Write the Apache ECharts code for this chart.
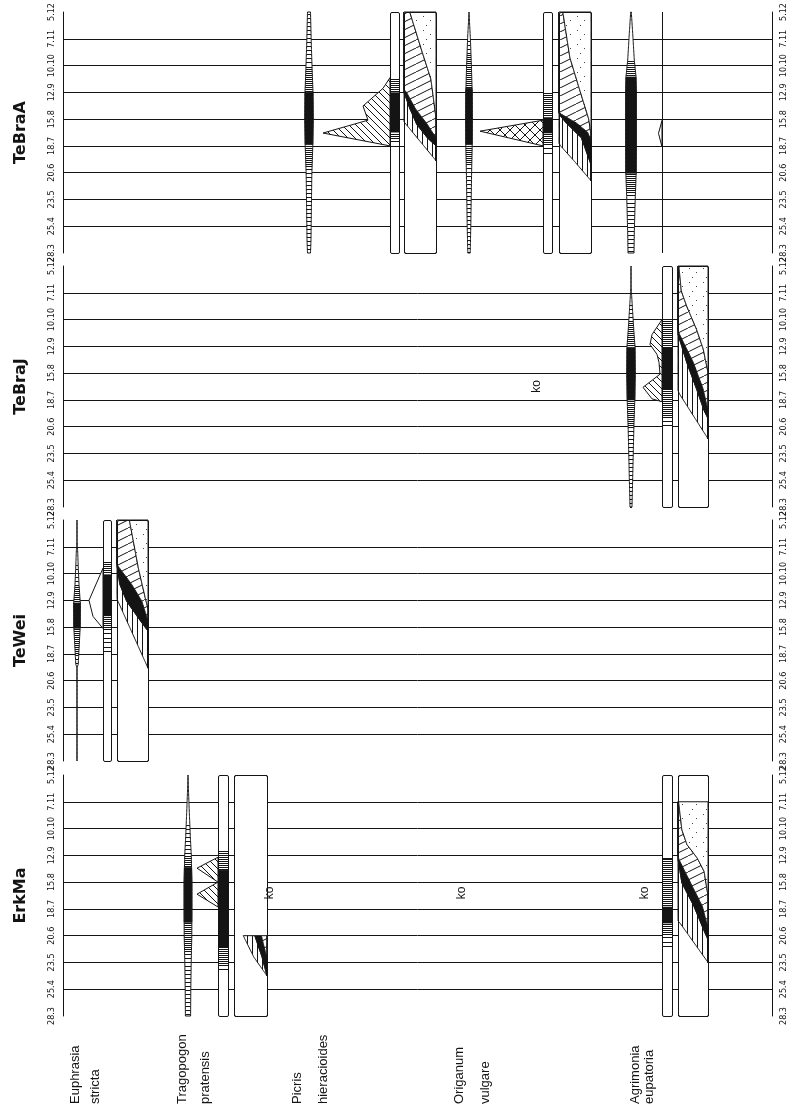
<!DOCTYPE html>
<html><head><meta charset="utf-8">
<script src="https://cdn.jsdelivr.net/npm/echarts@6/dist/echarts.min.js"></script>
<style>html,body{margin:0;padding:0;background:#fff;}#c{width:796px;height:1112px;}</style>
</head><body><div id="c"></div>
<script>
// ---------------- DATA ----------------
const DATES = ['28.3','25.4','23.5','20.6','18.7','15.8','12.9','10.10','7.11','5.12'];
const SITES = ['TeBraA','TeBraJ','TeWei','ErkMa'];
const SPECIES = [['Euphrasia','stricta'],['Tragopogon','pratensis'],['Picris','hieracioides'],['Origanum','vulgare'],['Agrimonia','eupatoria']];
const MARK_TEXT = 'ko';

// spindle profiles: [date index, half width]
const SP_TEBRAA_PICRIS = [[0,1.5],[0.5,2],[2.9,2.8],[4,3.8],[5,4.2],[6,4],[7,3],[7.8,2.3],[9,1.5]];
const SP_TEBRAA_ORIGANUM = [[0,1.2],[1,1.8],[2,2.2],[3,2.6],[4,3.2],[5,3.3],[6,3.2],[7,2.4],[8,1.4],[9,0]];
const SP_TEBRAA_AGRIMONIA = [[0,3],[0.75,3.3],[2,4.2],[3,5.2],[4,5.3],[5,5.3],[6,5.3],[6.6,5],[7.2,3.3],[8.2,1.7],[9,0.3]];
const SP_TEBRAJ_AGRIMONIA = [[0,1],[1.1,1.7],[2.9,2.8],[4,3.8],[5,4.2],[6,4],[6.6,2.8],[7.5,1.3],[8.1,0.3],[8.3,0],[9,0]];
const SP_TEWEI_EUPHRASIA = [[0,0],[3.5,0],[3.6,1.2],[4.3,2.2],[5,3.2],[5.9,3.3],[6.6,2],[7.2,1.3],[7.8,0.7],[8.3,0],[9,0]];
const SP_ERKMA_TRAGOPOGON = [[0,2.6],[1,2.8],[2,3.2],[3,3.8],[4,3.9],[5,3.9],[6,3.3],[6.7,2.3],[7.9,1],[8.6,0.3],[9,0]];
// spindle phases: [from, to, phase 1=sparse 2=dense 3=full]
const PH_TEBRAA_PICRIS = [[0,3.2,1],[3.2,4.05,2],[4.05,6.0,3],[6.0,7.0,2],[7.0,9,1]];
const PH_TEBRAA_ORIGANUM = [[0,3.4,1],[3.4,4.05,2],[4.05,6.15,3],[6.15,7.5,2],[7.5,8.0,1]];
const PH_TEBRAA_AGRIMONIA = [[0,2.24,1],[2.24,2.98,2],[2.98,6.57,3],[6.57,7.2,2]];
const PH_TEBRAJ_AGRIMONIA = [[0,2.93,1],[2.93,4.0,2],[4.0,5.96,3],[5.96,6.9,2],[6.9,7.6,1]];
const PH_TEWEI_EUPHRASIA = [[3.6,3.9,1],[3.9,4.96,2],[4.96,5.9,3],[5.9,6.6,2],[6.6,7.4,1]];
const PH_ERKMA_TRAGOPOGON = [[0,2.4,1],[2.4,3.5,2],[3.5,5.55,3],[5.55,6.0,2],[6.0,7.2,1]];
// flowering bars: [from, to, phase]
const NB_TEBRAA_PICRIS = [[3.95,4.25,1],[4.25,4.5,2],[4.5,6.0,3],[6.0,6.55,2]];
const NB_TEBRAA_ORIGANUM = [[3.6,4.0,1],[4.0,4.47,2],[4.47,5.07,3],[5.07,6.0,2]];
const NB_TEBRAJ_AGRIMONIA = [[2.93,3.3,1],[3.3,4.37,2],[4.37,5.96,3],[5.96,7.07,2]];
const NB_TEWEI_EUPHRASIA = [[4.03,4.85,1],[4.85,5.41,2],[5.41,6.97,3],[6.97,7.46,2]];
const NB_ERKMA_TRAGOPOGON = [[1.6,1.83,1],[1.83,2.54,2],[2.54,5.45,3],[5.45,6.2,2]];
const NB_ERKMA_AGRIMONIA = [[2.5,3.03,1],[3.03,3.46,2],[3.46,4.08,3],[4.08,5.9,2],[5.9,6.0,1]];
// flower-number profiles: [date index, extent]
const FL_TEBRAA_PICRIS = [[4.0,0],[4.48,67],[4.96,22],[5.49,27],[6.15,7],[6.55,0]];
const FL_TEBRAA_ORIGANUM = [[4.0,0],[4.55,63],[4.96,0]];
const FL_TEBRAA_AGRIMONIA = [[3.96,0],[4.47,3.5],[4.95,0]];
const FL_TEBRAJ_AGRIMONIA = [[3.93,0],[4.04,10],[4.47,19],[4.96,2],[5.4,3],[5.7,5],[6.07,12],[6.44,10],[7.0,0]];
const FL_TEWEI_EUPHRASIA = [[4.95,0],[5.4,10],[6.0,14],[7.2,0]];
const FL_ERKMA_TRAGOPOGON = [[4.07,0],[4.55,21],[5.0,0],[5.52,21],[5.93,0]];
// fruit stage boundaries (cumulative share 0..1): [b1, b2, b3, b4]
const WB_TEBRAA_PICRIS = [[[3.45,1],[4.9,0]],[[4.0,1],[4.3,0.73],[4.8,0.4],[5.4,0.18],[6.0,0]],[[4.3,1],[4.8,0.73],[5.4,0.35],[6.0,0.08],[6.1,0]],[[5.05,1],[6.5,0.84],[7.5,0.57],[9,0.18]]];
const WB_TEBRAA_ORIGANUM = [[[2.7,1],[3.4,0.5],[4.0,0.05],[4.1,0]],[[3.3,1],[4.3,0.7],[4.85,0.23],[5.15,0.02],[5.25,0]],[[4.2,1],[4.5,0.9],[4.85,0.55],[5.2,0.05],[5.3,0]],[[4.4,1],[5.0,0.93],[6.0,0.67],[7.3,0.34],[9,0.12]]];
const WB_TEBRAJ_AGRIMONIA = [[[2.55,1],[4.22,0.05],[4.35,0]],[[3.3,1],[3.6,0.87],[4.4,0.62],[5.4,0.29],[6.45,0]],[[3.6,1],[4.4,0.84],[5.4,0.51],[6.45,0.05],[6.6,0]],[[5.03,1],[5.9,0.84],[6.63,0.62],[7.5,0.29],[8.07,0.11],[9,0.03]]];
const WB_TEWEI_EUPHRASIA = [[[3.47,1],[5.97,0.03],[6.05,0]],[[4.85,1],[5.34,0.69],[5.97,0.31],[6.6,0.09],[7.3,0]],[[5.1,1],[5.34,0.97],[5.97,0.8],[6.6,0.47],[7.3,0.02],[7.4,0]],[[5.7,1],[6.1,0.91],[7.2,0.69],[9,0.4]]];
const WB_ERKMA_TRAGOPOGON = [[[1.5,1],[2.2,0.6],[3.0,0.28]],[[1.5,1],[2.2,0.85],[3.0,0.63]],[[2.15,1],[3.0,0.83]],[[0,1]]];
const WB_ERKMA_AGRIMONIA = [[[2.0,1],[3.45,0.08],[3.55,0]],[[2.85,1],[3.1,0.9],[4.1,0.53],[4.97,0.13],[5.85,0]],[[2.85,1],[3.3,1],[4.1,0.81],[4.97,0.42],[5.85,0.03],[6.0,0]],[[4.5,1],[5.4,0.87],[5.9,0.64],[6.4,0.3],[6.95,0.13],[8.0,0.02]]];
// range of the fruit record [from, to]
const WBR_TEBRAA_PICRIS = [3.45, 9];
const WBR_TEBRAA_ORIGANUM = [2.7, 9];
const WBR_TEBRAJ_AGRIMONIA = [2.55, 9];
const WBR_TEWEI_EUPHRASIA = [3.47, 9];
const WBR_ERKMA_TRAGOPOGON = [1.5, 3.0];
const WBR_ERKMA_AGRIMONIA = [2.0, 8.0];
// "ko" notes: [site, species, date index]
const NOTES = [[3,2,4.6],[3,3,4.6],[3,4,4.6],[1,3,4.5]];

// ---------------- LAYOUT ----------------
const INK = '#141414';
const GRID_TOP = [12, 266, 520, 775], GRID_H = 241, GRID_LEFT = 63, GRID_RIGHT = 24, X_MAX = 709;
const COLS = [
  {sp:14,  nb:[40,48],   wb:[54,85]},
  {sp:125, nb:[155,165], wb:[171,204]},
  {sp:246, nb:[327,336], wb:[341,373]},
  {sp:406, nb:[480,489], wb:[496,528]},
  {sp:568, nb:[599,609], wb:[615,645]}
];
const NOTE_X = {'3_2':207, '3_3':399, '3_4':582, '1_3':474};
const LABEL_X = [[75,95],[182,205],[297,323],[459,485],[635,649]];
const LABEL_Y = 1104;
const TITLE_X = 21;
const FONT_SANS = "'Liberation Sans',Arial,sans-serif";

function hasFont(name) {
  const g = document.createElement('canvas').getContext('2d');
  const s = '10.10 25.4 abcdefghijklm';
  g.font = '40px monospace'; const a = g.measureText(s).width;
  g.font = "40px '" + name + "', monospace"; const b = g.measureText(s).width;
  return Math.abs(a - b) > 0.5;
}
let TICK_FONT = FONT_SANS, TICK_SIZE = 9;
if (hasFont('Liberation Sans Narrow')) { TICK_FONT = "'Liberation Sans Narrow'"; TICK_SIZE = 10.5; }
else if (hasFont('Arial Narrow')) { TICK_FONT = "'Arial Narrow'"; TICK_SIZE = 10.5; }
else if (hasFont('DejaVu Sans Condensed')) { TICK_FONT = "'DejaVu Sans Condensed'"; TICK_SIZE = 9; }

function pat(w, h, fn) {
  const c = document.createElement('canvas'); c.width = w; c.height = h;
  const g = c.getContext('2d'); g.fillStyle = '#fff'; g.fillRect(0,0,w,h);
  g.strokeStyle = INK; g.fillStyle = INK; g.lineWidth = 1; fn(g, w, h);
  return {image: c, repeat: 'repeat'};
}
const PAT_V = pat(5, 5, g => { g.fillRect(2, 0, 1, 5); });
const PAT_SLANT = pat(16, 8, g => { g.beginPath(); [-16,0,16].forEach(d => { g.moveTo(d, 8); g.lineTo(d + 16, 0); }); g.stroke(); });
const PAT_DOTS = pat(14, 14, g => { g.fillStyle = '#444'; g.fillRect(3,2,1,1); g.fillRect(10,6,1,1); g.fillRect(6,11,1,1); });
const PAT_DIAG = pat(7, 7, g => { g.beginPath(); [-7,0,7].forEach(d => { g.moveTo(d, 0); g.lineTo(d + 7, 7); }); g.stroke(); });
const PAT_CROSS = pat(10, 10, g => { g.beginPath(); [-10,0,10].forEach(d => { g.moveTo(d,0); g.lineTo(d+10,10); g.moveTo(d,10); g.lineTo(d+10,0); }); g.stroke(); });
const FILLS = {diag: PAT_DIAG, cross: PAT_CROSS, none: '#fff'};

// elements per panel
const PANELS = [[], [], [], []];
function addFull(p, s, sp, ph, nb, fl, flFill, wb, wbr) {
  if (sp) PANELS[p].push({kind:'spindle', x:COLS[s].sp, prof:sp, ph:ph});
  if (nb) PANELS[p].push({kind:'nbox', x:COLS[s].nb, ph:nb});
  else PANELS[p].push({kind:'vline', x:COLS[s].nb[0]});
  if (fl) PANELS[p].push({kind:'flag', xr:COLS[s].nb[0], prof:fl, fill:flFill});
  if (wb) PANELS[p].push({kind:'wbox', x:COLS[s].wb, b:wb, r:wbr});
}
addFull(0, 2, SP_TEBRAA_PICRIS, PH_TEBRAA_PICRIS, NB_TEBRAA_PICRIS, FL_TEBRAA_PICRIS, 'diag', WB_TEBRAA_PICRIS, WBR_TEBRAA_PICRIS);
addFull(0, 3, SP_TEBRAA_ORIGANUM, PH_TEBRAA_ORIGANUM, NB_TEBRAA_ORIGANUM, FL_TEBRAA_ORIGANUM, 'cross', WB_TEBRAA_ORIGANUM, WBR_TEBRAA_ORIGANUM);
addFull(0, 4, SP_TEBRAA_AGRIMONIA, PH_TEBRAA_AGRIMONIA, null, FL_TEBRAA_AGRIMONIA, 'none', null, null);
addFull(1, 4, SP_TEBRAJ_AGRIMONIA, PH_TEBRAJ_AGRIMONIA, NB_TEBRAJ_AGRIMONIA, FL_TEBRAJ_AGRIMONIA, 'diag', WB_TEBRAJ_AGRIMONIA, WBR_TEBRAJ_AGRIMONIA);
addFull(2, 0, SP_TEWEI_EUPHRASIA, PH_TEWEI_EUPHRASIA, NB_TEWEI_EUPHRASIA, FL_TEWEI_EUPHRASIA, 'none', WB_TEWEI_EUPHRASIA, WBR_TEWEI_EUPHRASIA);
addFull(3, 1, SP_ERKMA_TRAGOPOGON, PH_ERKMA_TRAGOPOGON, NB_ERKMA_TRAGOPOGON, FL_ERKMA_TRAGOPOGON, 'diag', WB_ERKMA_TRAGOPOGON, WBR_ERKMA_TRAGOPOGON);
addFull(3, 4, null, null, NB_ERKMA_AGRIMONIA, null, null, WB_ERKMA_AGRIMONIA, WBR_ERKMA_AGRIMONIA);
NOTES.forEach(([p, s, t]) => PANELS[p].push({kind:'note', x:NOTE_X[p + '_' + s], t:t}));

// ---------------- RENDER ----------------
function interp(pts, t) {
  if (t <= pts[0][0]) return pts[0][1];
  for (let i = 1; i < pts.length; i++) {
    if (t <= pts[i][0]) { const a = pts[i-1], b = pts[i]; return a[1] + (b[1]-a[1]) * (t-a[0]) / (b[0]-a[0]); }
  }
  return pts[pts.length-1][1];
}
function steps(a, b, st) { const r = []; for (let t = a; t < b - 1e-9; t += st) r.push(t); r.push(b); return r; }
const cr = v => Math.round(v) + 0.5;

function rungs(ch, ya, yb, gap, xs) {
  for (let y = yb + gap / 2; y < ya - 0.3; y += gap) {
    const [x1, x2] = xs(y);
    const yy = cr(y);
    ch.push({type:'line', shape:{x1:x1, y1:yy, x2:x2, y2:yy}, style:{stroke:INK, lineWidth:1}});
  }
}

function drawSpindle(e, C, ch) {
  const pr = e.prof, ts = steps(pr[0][0], pr[pr.length-1][0], 0.05);
  const L = ts.map(t => C(e.x - interp(pr, t), t));
  const R = ts.slice().reverse().map(t => C(e.x + interp(pr, t), t));
  ch.push({type:'polygon', shape:{points:L.concat(R)}, style:{fill:'#fff', stroke:INK, lineWidth:1}});
  e.ph.forEach(([a, b, code]) => {
    if (code === 3) {
      const s = steps(a, b, 0.05);
      const l = s.map(t => C(e.x - interp(pr, t), t)), r = s.slice().reverse().map(t => C(e.x + interp(pr, t), t));
      ch.push({type:'polygon', shape:{points:l.concat(r)}, style:{fill:INK, stroke:INK, lineWidth:0.8}});
    } else {
      const ya = C(e.x, a)[1], yb = C(e.x, b)[1];
      rungs(ch, ya, yb, code === 1 ? 4 : 2, y => {
        const t = a + (ya - y) / (ya - yb) * (b - a), hw = interp(pr, t);
        return [C(e.x - hw, t)[0], C(e.x + hw, t)[0]];
      });
    }
  });
}
function drawNBox(e, C, ch) {
  const p = C(e.x[0], 9), q = C(e.x[1], 0);
  const X0 = cr(p[0]), X1 = cr(q[0]), Y0 = cr(p[1]), Y1 = cr(q[1]);
  ch.push({type:'rect', shape:{x:X0, y:Y0, width:X1-X0, height:Y1-Y0, r:1.5}, style:{fill:'#fff', stroke:INK, lineWidth:1}});
  e.ph.forEach(([a, b, code]) => {
    const ya = C(0, a)[1], yb = C(0, b)[1];
    if (code === 3) ch.push({type:'rect', shape:{x:X0, y:yb, width:X1-X0, height:ya-yb}, style:{fill:INK}});
    else rungs(ch, ya, yb, code === 1 ? 4.5 : 2, () => [X0, X1]);
  });
}
function drawVLine(e, C, ch) {
  const p = C(e.x, 9), q = C(e.x, 0);
  ch.push({type:'line', shape:{x1:cr(p[0]), y1:p[1], x2:cr(q[0]), y2:q[1]}, style:{stroke:INK, lineWidth:1}});
}
function drawFlag(e, C, ch) {
  const pts = e.prof.map(([t, w]) => C(e.xr - w, t));
  ch.push({type:'polygon', shape:{points:pts}, style:{fill:FILLS[e.fill], stroke:INK, lineWidth:1}});
}
function drawWBox(e, C, ch) {
  const p = C(e.x[0], 9), q = C(e.x[1], 0);
  const X0 = cr(p[0]), X1 = cr(q[0]), Y0 = cr(p[1]), Y1 = cr(q[1]);
  ch.push({type:'rect', shape:{x:X0, y:Y0, width:X1-X0, height:Y1-Y0, r:1.5}, style:{fill:'#fff', stroke:INK, lineWidth:1}});
  const ts = steps(e.r[0], e.r[1], 0.04);
  const B = e.b;
  const bnd = ts.map(t => {
    const v1 = interp(B[0], t), v2 = Math.max(v1, interp(B[1], t)), v3 = Math.max(v2, interp(B[2], t)), v4 = Math.max(v3, interp(B[3], t));
    return [v1, v2, v3, v4, 1];
  });
  const X = v => e.x[0] + v * (e.x[1] - e.x[0]);
  [[0,1,PAT_V],[1,2,INK],[2,3,PAT_SLANT],[3,4,PAT_DOTS]].forEach(([ia, ib, fill]) => {
    const L = ts.map((t, k) => C(X(bnd[k][ia]), t));
    const R = ts.map((t, k) => C(X(bnd[k][ib]), t)).reverse();
    ch.push({type:'polygon', shape:{points:L.concat(R)}, style:{fill:fill, stroke:INK, lineWidth:1}});
  });
  ch.push({type:'rect', shape:{x:X0, y:Y0, width:X1-X0, height:Y1-Y0, r:1.5}, style:{fill:null, stroke:INK, lineWidth:1}});
}
function drawNote(e, C, ch) {
  const p = C(e.x, e.t);
  ch.push({type:'text', x:p[0], y:p[1], rotation:Math.PI/2, style:{text:MARK_TEXT, font:'12px ' + FONT_SANS, fill:INK, align:'center', verticalAlign:'middle'}});
}
const DRAW = {spindle:drawSpindle, nbox:drawNBox, vline:drawVLine, flag:drawFlag, wbox:drawWBox, note:drawNote};

function renderer(pi) {
  return function (params, api) {
    const e = PANELS[pi][params.dataIndex];
    const C = (x, t) => api.coord([x, t]);
    const ch = [];
    DRAW[e.kind](e, C, ch);
    return {type:'group', children:ch};
  };
}

const grids = [], xAxes = [], yAxes = [], series = [];
SITES.forEach((s, i) => {
  grids.push({left:GRID_LEFT, right:GRID_RIGHT, top:GRID_TOP[i], height:GRID_H});
  xAxes.push({type:'value', gridIndex:i, min:0, max:X_MAX, show:false});
  const lab = {rotate:90, formatter: v => DATES[Math.round(v)], fontSize:TICK_SIZE, fontFamily:TICK_FONT, color:INK, margin:7, showMinLabel:true, showMaxLabel:true};
  yAxes.push({type:'value', gridIndex:i, min:0, max:9, interval:1, position:'left',
    axisLine:{show:true, onZero:false, lineStyle:{color:INK, width:1}}, axisTick:{show:false}, axisLabel:lab,
    splitLine:{show:true, showMinLine:false, showMaxLine:false, lineStyle:{color:INK, width:1}}});
  yAxes.push({type:'value', gridIndex:i, min:0, max:9, interval:1, position:'right',
    axisLine:{show:true, onZero:false, lineStyle:{color:INK, width:1}}, axisTick:{show:false}, axisLabel:Object.assign({}, lab),
    splitLine:{show:false}});
  series.push({type:'custom', coordinateSystem:'cartesian2d', xAxisIndex:i, yAxisIndex:2*i, clip:false,
    renderItem:renderer(i), data:PANELS[i].map((_, k) => [k, 0]), silent:true});
});

const graphic = [];
SITES.forEach((s, i) => graphic.push({type:'text', x:TITLE_X, y:GRID_TOP[i] + GRID_H/2, rotation:Math.PI/2,
  style:{text:s, font:"bold 16px 'DejaVu Sans',sans-serif", fill:INK, align:'center', verticalAlign:'middle', textAlign:'center', textVerticalAlign:'middle'}}));
SPECIES.forEach((lines, i) => lines.forEach((ln, j) => graphic.push({type:'text', x:LABEL_X[i][j], y:LABEL_Y, rotation:Math.PI/2,
  style:{text:ln, font:'13px ' + FONT_SANS, fill:INK, align:'left', verticalAlign:'middle', textAlign:'left', textVerticalAlign:'middle'}})));

const chart = echarts.init(document.getElementById('c'), null, {renderer:'canvas'});
chart.setOption({animation:false, backgroundColor:'#fff', grid:grids, xAxis:xAxes, yAxis:yAxes, series:series, graphic:graphic});
</script></body></html>
